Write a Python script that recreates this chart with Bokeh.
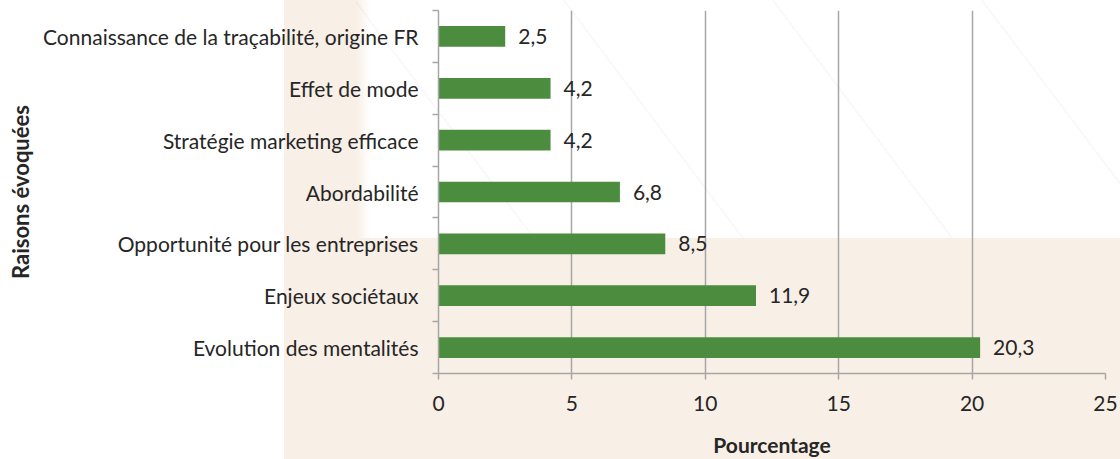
from bokeh.plotting import figure
from bokeh.models import FixedTicker, Range1d, ColumnDataSource
from bokeh.core.properties import value
from bokeh.embed import file_html
from bokeh.resources import INLINE

categories = ["Evolution des mentalités", "Enjeux sociétaux", "Opportunité pour les entreprises",
              "Abordabilité", "Stratégie marketing efficace", "Effet de mode",
              "Connaissance de la traçabilité, origine FR"]
values = [20.3, 11.9, 8.5, 6.8, 4.2, 4.2, 2.5]
value_labels = ["20,3", "11,9", "8,5", "6,8", "4,2", "4,2", "2,5"]
x_ticks = [0, 5, 10, 15, 20, 25]
x_title = "Pourcentage"
y_title = "Raisons évoquées"

FONT = "Lato"
BEIGE = "#F8EFE6"
GRID = "#A6A6A6"
TEXT = "#262626"
BAR = "#4B8C3E"

n = len(categories)
centers = [i + 0.5 for i in range(n)]
src = ColumnDataSource(dict(y=centers, v=values, lab=value_labels))

p = figure(width=1120, height=459, output_backend="svg", toolbar_location=None,
           x_range=Range1d(0, 25), y_range=Range1d(0, n),
           min_border_left=438, min_border_right=15, min_border_top=10, min_border_bottom=85)
p.background_fill_color = None
p.border_fill_color = None
p.outline_line_color = None
p.styles = {
    "background-color": "white",
    "background-image": ("repeating-linear-gradient(53deg, rgba(0,0,0,0) 0px, rgba(0,0,0,0) 141px, "
                         "rgba(0,0,0,0.022) 141px, rgba(0,0,0,0.022) 143px, rgba(0,0,0,0) 143px, rgba(0,0,0,0) 167px), "
                         "linear-gradient(to right, rgba(255,255,255,0) 0px, #ffffff 14px), "
                         f"linear-gradient(to right, #ffffff 284px, {BEIGE} 284px)"),
    "background-size": "764px 238px, 764px 238px, 100% 100%",
    "background-position": "356px 0px, 356px 0px, 0px 0px",
    "background-repeat": "no-repeat",
}

p.hbar(y="y", right="v", left=0, height=0.4, source=src, fill_color=BAR, line_color=None)
p.text(x="v", y="y", text="lab", source=src, x_offset=13, text_align="left",
       text_baseline="middle", text_font=value(FONT), text_font_size="21px", text_color=TEXT)

# x axis
xa = p.xaxis[0]
xa.ticker = FixedTicker(ticks=x_ticks)
xa.axis_line_color = GRID
xa.axis_line_width = 1.5
xa.major_tick_line_color = GRID
xa.major_tick_line_width = 1.5
xa.major_tick_out = 6
xa.major_tick_in = 0
xa.minor_tick_line_color = None
xa.major_label_text_font = FONT
xa.major_label_text_font_size = "21px"
xa.major_label_text_color = TEXT
xa.major_label_standoff = 16
xa.axis_label = x_title
xa.axis_label_text_font = FONT
xa.axis_label_text_font_size = "21px"
xa.axis_label_text_font_style = "bold"
xa.axis_label_text_color = TEXT
xa.axis_label_standoff = 18

# y axis: ticks at category boundaries, labels at centers
ya = p.yaxis[0]
ya.ticker = FixedTicker(ticks=centers, minor_ticks=list(range(n + 1)))
ya.major_label_overrides = {c: cat for c, cat in zip(centers, categories)}
ya.axis_line_color = GRID
ya.axis_line_width = 1.5
ya.major_tick_line_color = None
ya.minor_tick_line_color = GRID
ya.minor_tick_line_width = 1.5
ya.minor_tick_out = 6
ya.minor_tick_in = 0
ya.major_label_text_font = FONT
ya.major_label_text_font_size = "21px"
ya.major_label_text_color = TEXT
ya.major_label_standoff = 14
ya.axis_label = y_title
ya.axis_label_text_font = FONT
ya.axis_label_text_font_size = "22px"
ya.axis_label_text_font_style = "bold"
ya.axis_label_text_color = TEXT
ya.axis_label_standoff = 6

p.xgrid.ticker = FixedTicker(ticks=x_ticks[1:])
p.xgrid.grid_line_color = GRID
p.xgrid.grid_line_width = 1.5
p.ygrid.grid_line_color = None

open("out.html", "w").write(file_html(p, INLINE))
